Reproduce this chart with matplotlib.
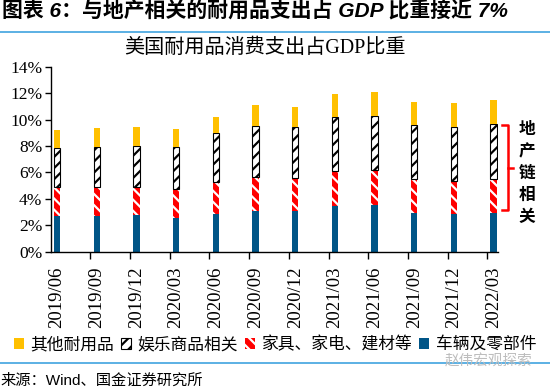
import matplotlib
matplotlib.use("Agg")
import matplotlib.pyplot as plt
from matplotlib.patches import Patch
from matplotlib.lines import Line2D
import numpy as np

plt.rcParams['font.family'] = ['Liberation Serif', 'Noto Sans CJK SC', 'DejaVu Sans']
plt.rcParams['hatch.linewidth'] = 1.6

quarters = ['2019/06', '2019/09', '2019/12', '2020/03', '2020/06', '2020/09',
            '2020/12', '2021/03', '2021/06', '2021/09', '2021/12', '2022/03']
# cumulative tops (%)
vehicles = [2.73, 2.73, 2.75, 2.58, 2.85, 3.10, 3.08, 3.43, 3.51, 2.90, 2.83, 2.93]
furniture_top = [4.87, 4.87, 4.92, 4.77, 5.25, 5.65, 5.60, 6.11, 6.16, 5.48, 5.35, 5.48]
recreation_top = [7.83, 7.95, 8.00, 7.90, 9.01, 9.54, 9.41, 10.22, 10.30, 9.57, 9.46, 9.67]
total = [9.21, 9.36, 9.41, 9.29, 10.20, 11.10, 10.98, 11.96, 12.09, 11.33, 11.26, 11.46]

furniture = np.array(furniture_top) - np.array(vehicles)
recreation = np.array(recreation_top) - np.array(furniture_top)
other = np.array(total) - np.array(recreation_top)

yellow = '#FFC000'
blue = '#005587'
red = '#FF0000'
line_blue = '#3FA3DF'

fig = plt.figure(figsize=(5.5, 3.87), dpi=100)
ax = fig.add_axes([0.0922, 0.3496, 0.8133, 0.478])

x = np.arange(len(quarters))
w = 0.16
ax.bar(x, vehicles, w, color=blue, linewidth=0)
ax.bar(x, furniture, w, bottom=vehicles, color=red, edgecolor='white',
       hatch='\\\\\\', linewidth=0)
ax.bar(x, recreation, w, bottom=furniture_top, color='white', edgecolor='black',
       hatch='///', linewidth=0.8)
ax.bar(x, other, w, bottom=recreation_top, color=yellow, linewidth=0)

ax.set_xlim(-0.159, 11.11)
ax.set_ylim(0, 14)
ax.set_yticks(np.arange(0, 15, 2))
ax.set_yticklabels([f'{v}%' for v in range(0, 15, 2)], fontsize=12.5)
ax.set_xticks(x)
ax.set_xticklabels(quarters, rotation=90, fontsize=13.5)
ax.tick_params(axis='x', length=0, pad=11)
ax.set_xticks(x[1:] - 0.159, minor=True)
ax.tick_params(axis='x', which='minor', length=5, direction='out', width=1)
ax.tick_params(axis='y', length=4, direction='out', width=1, pad=2)
for s in ['top', 'right']:
    ax.spines[s].set_visible(False)
for s in ['left', 'bottom']:
    ax.spines[s].set_linewidth(1)

# titles
fig.text(0.003, 0.974, '图表 6：与地产相关的耐用品支出占 GDP 比重接近 7%',
         family=['Liberation Sans', 'Noto Sans CJK SC'], weight='bold', style='italic',
         fontsize=15, va='center', ha='left')
fig.add_artist(Line2D([0, 1], [1 - 32 / 387] * 2, color=line_blue, lw=1.2,
                      transform=fig.transFigure))
fig.text(0.482, 1 - 48 / 387, '美国耐用品消费支出占GDP比重', fontsize=14.5,
         ha='center', va='center')

# bracket annotation
bx0, bx1, bx2 = 502 / 550, 508 / 550, 513 / 550
yt, yb, ym = 1 - 125 / 387, 1 - 210 / 387, 1 - 168 / 387
fig.add_artist(Line2D([bx0, bx1, bx1, bx0], [yt, yt, yb, yb], color=red, lw=1.8,
                      transform=fig.transFigure))
fig.add_artist(Line2D([bx1, bx2], [ym, ym], color=red, lw=1.8,
                      transform=fig.transFigure))
for i, ch in enumerate('地产链相关'):
    fig.text(527 / 550, 1 - (129 + 22 * i) / 387, ch, fontsize=12, weight='bold',
             ha='center', va='center', family=['Noto Sans CJK SC'])

# legend
handles = [Patch(facecolor=yellow, linewidth=0),
           Patch(facecolor='white', edgecolor='black', hatch='///', linewidth=0.8),
           Patch(facecolor=red, edgecolor='white', hatch='\\\\\\', linewidth=0),
           Patch(facecolor=blue, linewidth=0)]
labels = ['其他耐用品', '娱乐商品相关', '家具、家电、建材等', '车辆及零部件']
fig.legend(handles, labels, loc='center', bbox_to_anchor=(0.5, 1 - 345 / 387),
           ncol=4, frameon=False, fontsize=12.1, handlelength=0.6, handleheight=0.6,
           handletextpad=0.4, columnspacing=0.4, borderaxespad=0, borderpad=0)

fig.add_artist(Line2D([0, 1], [1 - 363 / 387] * 2, color=line_blue, lw=1.2,
                      transform=fig.transFigure))
fig.text(445 / 550, 1 - 362 / 387, '赵伟宏观探索', fontsize=10.5, color='#bdbdbd',
         ha='left', va='center', family=['Noto Sans CJK SC'])
fig.text(0.0, 1 - 381 / 387, '来源：Wind、国金证券研究所', fontsize=11,
         family=['Liberation Sans', 'Noto Sans CJK SC'], ha='left', va='center')

fig.savefig('out.png', dpi=100)
